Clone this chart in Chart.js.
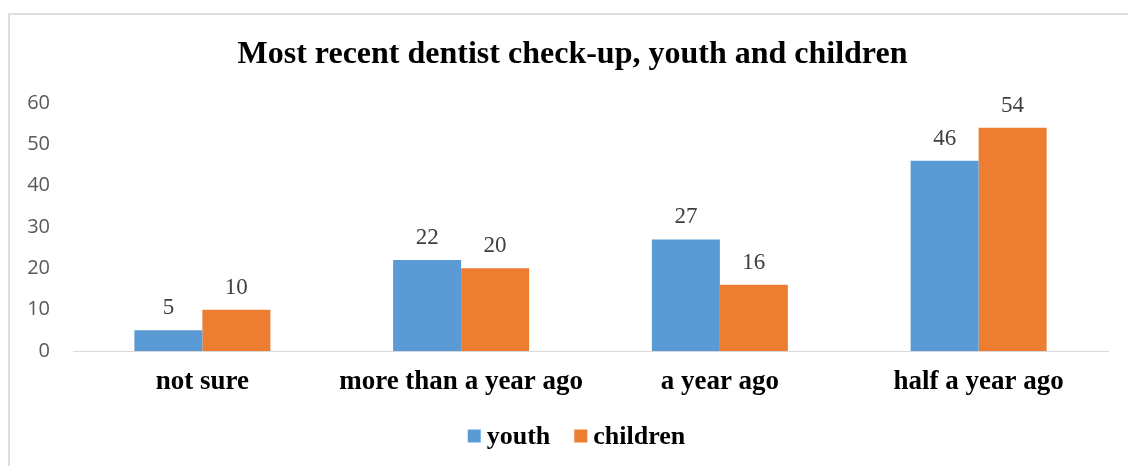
<!DOCTYPE html>
<html>
<head>
<meta charset="utf-8">
<script src="https://cdn.jsdelivr.net/npm/chart.js@4.4.1/dist/chart.umd.min.js"></script>
<style>
  html, body { margin: 0; padding: 0; background: #fff; overflow: hidden; }
  #wrap { position: relative; width: 1128px; height: 466px; }
  #frame { position: absolute; left: 8px; top: 13px; width: 1140px; height: 480px; border: 2px solid #dedede; box-sizing: border-box; }
  canvas { position: absolute; left: 0; top: 0; }
</style>
</head>
<body>
<div id="wrap">
  <div id="frame"></div>
  <canvas id="c" width="1128" height="466"></canvas>
</div>
<script>
const chartTitle = "Most recent dentist check-up, youth and children";
const categories = ["not sure", "more than a year ago", "a year ago", "half a year ago"];
const seriesNames = ["youth", "children"];
const youth = [5, 22, 27, 46];
const children = [10, 20, 16, 54];
const yTicks = [0, 10, 20, 30, 40, 50, 60];
const seriesColors = ["#5B9BD5", "#ED7D31"];

const SERIF = '"Liberation Serif", "Times New Roman", serif';

const overlay = {
  id: 'overlay',
  afterDatasetsDraw(chart) {
    const ctx = chart.ctx;
    ctx.save();
    // data labels
    ctx.font = '23px ' + SERIF;
    ctx.fillStyle = '#404040';
    ctx.textAlign = 'center';
    ctx.textBaseline = 'alphabetic';
    chart.data.datasets.forEach((ds, i) => {
      chart.getDatasetMeta(i).data.forEach((bar, j) => {
        ctx.fillText(String(ds.data[j]), bar.x, bar.y - 16);
      });
    });
    // title
    ctx.font = 'bold 32px ' + SERIF;
    ctx.fillStyle = '#000';
    ctx.textBaseline = 'middle';
    ctx.fillText(chartTitle, 572.5, 55);
    // legend
    ctx.font = 'bold 26px ' + SERIF;
    const box = 13, gapText = 6, gapItem = 24;
    let widths = seriesNames.map(n => ctx.measureText(n).width);
    let total = widths.reduce((a, w) => a + box + gapText + w, 0) + gapItem * (seriesNames.length - 1);
    let x = 576.5 - total / 2;
    const cy = 436;
    ctx.textAlign = 'left';
    seriesNames.forEach((n, i) => {
      ctx.fillStyle = seriesColors[i];
      ctx.fillRect(x, cy - box / 2, box, box);
      x += box + gapText;
      ctx.fillStyle = '#000';
      ctx.fillText(n, x, cy + 1);
      x += widths[i] + gapItem;
    });
    ctx.restore();
  }
};

new Chart(document.getElementById('c'), {
  type: 'bar',
  data: {
    labels: categories,
    datasets: [
      { label: seriesNames[0], data: youth, backgroundColor: seriesColors[0], borderWidth: 0 },
      { label: seriesNames[1], data: children, backgroundColor: seriesColors[1], borderWidth: 0 }
    ]
  },
  options: {
    responsive: false,
    animation: false,
    devicePixelRatio: 1,
    layout: { padding: { left: 0, right: 20, top: 103, bottom: 0 } },
    plugins: {
      legend: { display: false },
      title: { display: false },
      tooltip: { enabled: false }
    },
    datasets: { bar: { categoryPercentage: 0.5256, barPercentage: 1.0 } },
    scales: {
      x: {
        grid: { display: false, drawTicks: false },
        border: { display: true, color: '#d9d9d9', width: 1 },
        ticks: {
          color: '#000',
          font: { family: SERIF, size: 27, weight: 'bold' },
          padding: 15,
          maxRotation: 0, autoSkip: false
        },
        afterFit(scale) { scale.height = 115; }
      },
      y: {
        min: 0, max: 60,
        grid: { display: false, drawTicks: false },
        border: { display: false },
        afterBuildTicks(scale) { scale.ticks = yTicks.map(v => ({ value: v })); },
        ticks: {
          color: '#595959',
          font: { family: '"Open Sans", sans-serif', size: 20 },
          padding: 23
        },
        afterFit(scale) { scale.width = 73; }
      }
    }
  },
  plugins: [overlay]
});
</script>
</body>
</html>
